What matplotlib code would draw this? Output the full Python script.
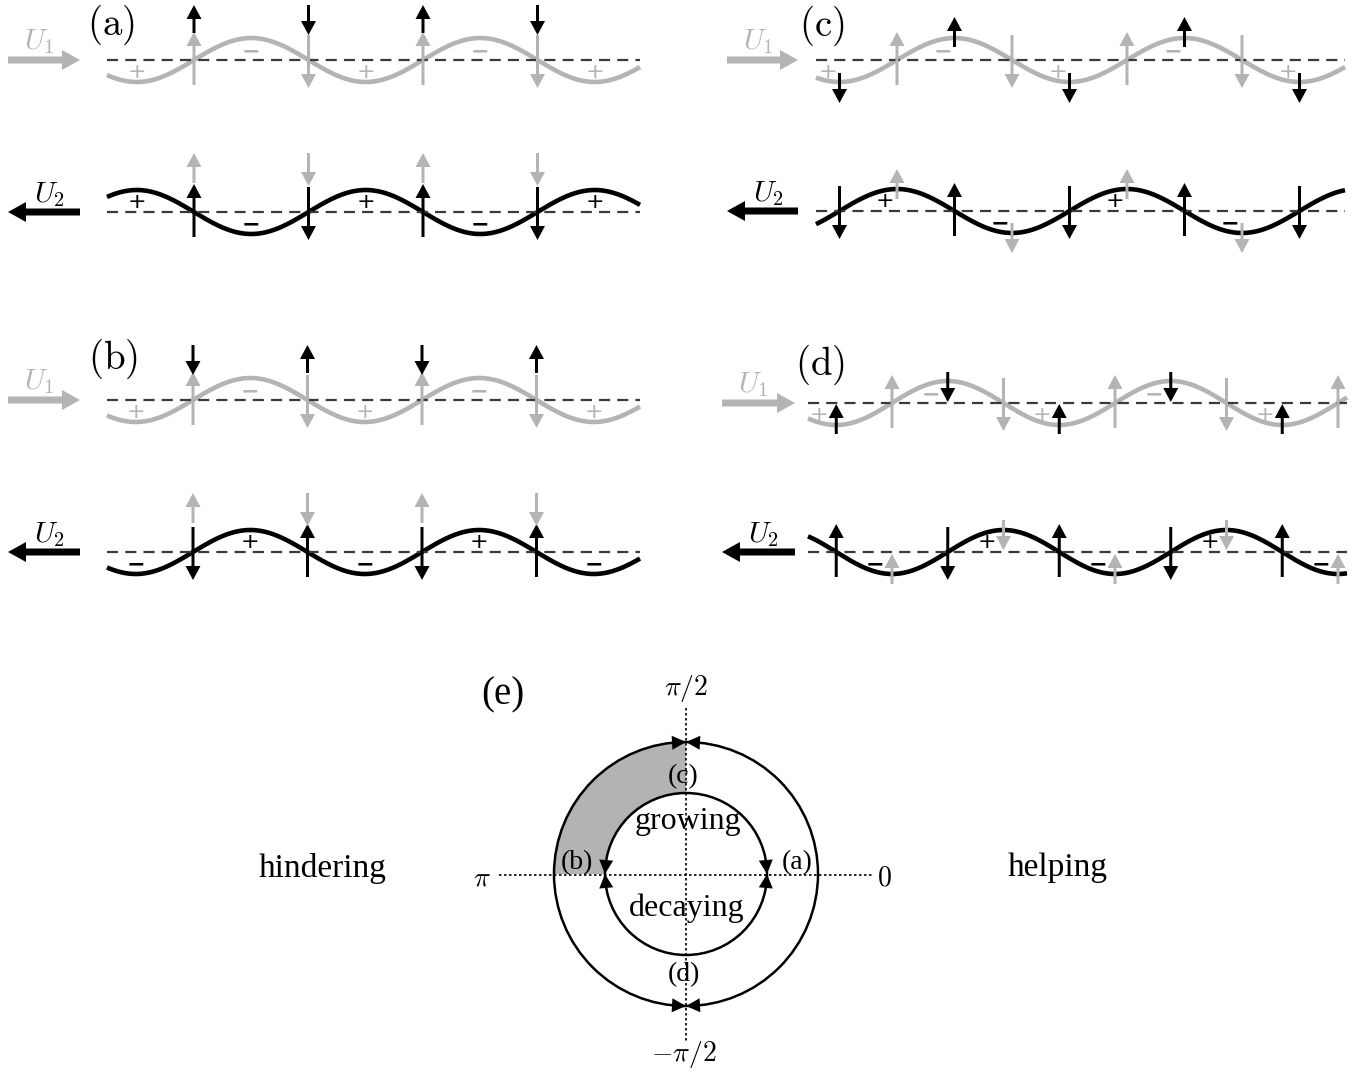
import numpy as np
import matplotlib.pyplot as plt
from matplotlib.patches import Circle, Wedge, Polygon

plt.rcParams['mathtext.fontset'] = 'cm'

GRAY = '#b4b4b4'
DASH = '#3a3a3a'

# panels (a)-(d), geometry in pixels
panel_tags = ['(a)', '(b)', '(c)', '(d)']
tag_xy = [(111, 25), (113, 359), (822, 26), (820, 365)]
x_start = [107, 107, 816, 808]
x_end = [640, 640, 1345, 1347]
upper_y = [60, 400, 60, 403]
lower_y = [212, 552, 211, 552]
gray_zero = [194, 193, 897, 892]          # up-crossing of the U1 wave
period = [229, 229, 230, 223]
black_shift = [np.pi, 0.0, np.pi / 2, -np.pi / 2]   # U2 wave phase relative to U1
sign_shift = [0, 0, -12, -17]
stacked = [True, True, False, False]
u_arrow_x = [(8, 80), (8, 80), (727, 798), (722, 795)]
amp = 22

# panel (e)
e_center = (686, 874)
r_outer = 132
r_inner = 81

fig = plt.figure(figsize=(13.7, 10.76), dpi=100)
ax = fig.add_axes([0, 0, 1, 1])
ax.set_xlim(0, 1370)
ax.set_ylim(1076, 0)
ax.axis('off')


def varrow(x, tail, tip, color, z=5):
    ax.arrow(x, tail, 0, tip - tail, width=3, head_width=15, head_length=14,
             length_includes_head=True, fc=color, ec='none', zorder=z)


def zeros(i, phase):
    k = 2 * np.pi / period[i]
    out = []
    for n in range(-6, 12):
        x = gray_zero[i] + (n * np.pi - phase) / k
        if x_start[i] + 4 <= x <= x_end[i] + 2:
            out.append(x)
    return out


def extrema(i, phase):
    k = 2 * np.pi / period[i]
    out = []
    for n in range(-6, 12):
        x = gray_zero[i] + (np.pi / 2 + n * np.pi - phase) / k
        if x_start[i] + 4 <= x <= x_end[i] - 4:
            out.append((x, np.sin(k * (x - gray_zero[i]) + phase) > 0))
    return out


for i in range(4):
    k = 2 * np.pi / period[i]
    g0, ph = gray_zero[i], black_shift[i]
    ub, lb = upper_y[i], lower_y[i]
    xs = np.linspace(x_start[i], x_end[i], 500)
    h1 = lambda x: amp * np.sin(k * (x - g0))
    h2 = lambda x: amp * np.sin(k * (x - g0) + ph)

    ax.plot(xs, ub - h1(xs), color=GRAY, lw=3.3, zorder=2, solid_capstyle='butt')
    ax.plot(xs, lb - h2(xs), color='k', lw=3.3, zorder=2, solid_capstyle='butt')
    for yb in (ub, lb):
        ax.plot([x_start[i], x_end[i]], [yb, yb], color=DASH, lw=1.6,
                dashes=(5.0, 3.2), zorder=3)

    # U1 wave: own arrows on top row, its arrows also shown on bottom row
    for x in zeros(i, 0.0):
        d = 1 if np.cos(k * (x - g0)) > 0 else -1
        varrow(x, ub + 25 * d, ub - 28 * d, GRAY, 4)
        if stacked[i]:
            t, p = (lb - 29, lb - 59) if d > 0 else (lb - 59, lb - 26)
        else:
            c = lb - h2(x)
            t, p = c + 10 * d, c - 20 * d
        varrow(x, t, p, GRAY, 6)

    # U2 wave
    for x in zeros(i, ph):
        d = -1 if np.cos(k * (x - g0) + ph) > 0 else 1
        varrow(x, lb + 25 * d, lb - 28 * d, 'k', 5)
        if stacked[i]:
            t, p = (ub - 27, ub - 55) if d > 0 else (ub - 55, ub - 25)
        else:
            c = ub - h1(x)
            t, p = c + 9 * d, c - 21 * d
        varrow(x, t, p, 'k', 6)

    # +/- signs at crests and troughs
    for x, crest in extrema(i, 0.0):
        s, y = ('\u2212', ub - 9) if crest else ('+', ub + 12)
        ax.text(x + sign_shift[i], y, s, color=GRAY, fontsize=16, ha='center',
                va='center', fontweight='bold' if crest else 'normal', zorder=7)
    for x, crest in extrema(i, ph):
        s, y = ('+', lb - 10) if crest else ('\u2212', lb + 12)
        ax.text(x + sign_shift[i], y, s, color='k', fontsize=16, ha='center',
                va='center', fontweight='normal' if crest else 'bold', zorder=7)

    # flow arrows and labels
    xa, xb = u_arrow_x[i]
    ax.arrow(xa, ub, xb - xa, 0, width=7, head_width=20, head_length=18,
             length_includes_head=True, fc=GRAY, ec='none')
    ax.arrow(xb, lb, xa - xb, 0, width=7, head_width=20, head_length=18,
             length_includes_head=True, fc='k', ec='none')
    ax.text(xa + 31, ub - 18, r'$U_1$', color=GRAY, fontsize=21, ha='center', va='center')
    ax.text(xa + 42, lb - 17, r'$U_2$', color='k', fontsize=21, ha='center', va='center')
    ax.text(tag_xy[i][0], tag_xy[i][1], r'$\mathrm{' + panel_tags[i] + '}$',
            fontsize=28, ha='center', va='center')

# panel (e): phase circle
cx, cy = e_center
ax.add_patch(Wedge((cx, cy), r_outer, 180, 270, width=r_outer - r_inner,
                   fc='#b3b3b3', ec='none', zorder=1))
for r in (r_outer, r_inner):
    ax.add_patch(Circle((cx, cy), r, fill=False, ec='k', lw=1.8, zorder=3))
ax.plot([cx, cx], [708, 1041], color='k', lw=1.2, dashes=(1.5, 1.5), zorder=2)
ax.plot([499, 873], [cy + 1, cy + 1], color='k', lw=1.2, dashes=(1.5, 1.5), zorder=2)


def tri(r, ang, side):
    # arrowhead on the circle, tip at angle ang, base on the given side
    a = np.deg2rad(ang)
    tip = np.array([cx + r * np.cos(a), cy - r * np.sin(a)])
    b = a + side * 14.0 / r
    base = np.array([cx + r * np.cos(b), cy - r * np.sin(b)])
    d = (tip - base) / np.linalg.norm(tip - base)
    n = np.array([-d[1], d[0]])
    pts = [tip, base + n * 7, base - n * 7]
    ax.add_patch(Polygon(pts, closed=True, fc='k', ec='none', zorder=4))


for ang in (90, 270):
    tri(r_outer, ang, 1)
    tri(r_outer, ang, -1)
for ang in (0, 180):
    tri(r_inner, ang, 1)
    tri(r_inner, ang, -1)

serif = 'Liberation Serif'
ax.text(503, 695, '(e)', family=serif, fontsize=28, ha='center', va='center')
ax.text(683, 777, '(c)', family=serif, fontsize=20, ha='center', va='center', zorder=5)
ax.text(684, 975, '(d)', family=serif, fontsize=20, ha='center', va='center', zorder=5)
ax.text(577, 863, '(b)', family=serif, fontsize=20, ha='center', va='center', zorder=5)
ax.text(797, 863, '(a)', family=serif, fontsize=20, ha='center', va='center', zorder=5)
ax.text(688, 822, 'growing', family=serif, fontsize=23, ha='center', va='center', zorder=5)
ax.text(687, 908, 'decaying', family=serif, fontsize=23, ha='center', va='center', zorder=5)
ax.text(323, 868, 'hindering', family=serif, fontsize=24, ha='center', va='center')
ax.text(1058, 868, 'helping', family=serif, fontsize=24, ha='center', va='center')
ax.text(686, 688, r'$\pi/2$', fontsize=20, ha='center', va='center')
ax.text(684, 1054, r'$-\pi/2$', fontsize=20, ha='center', va='center')
ax.text(482, 877, r'$\pi$', fontsize=20, ha='center', va='center')
ax.text(884, 877, r'$0$', fontsize=20, ha='center', va='center')

fig.savefig('out.png', dpi=100)
